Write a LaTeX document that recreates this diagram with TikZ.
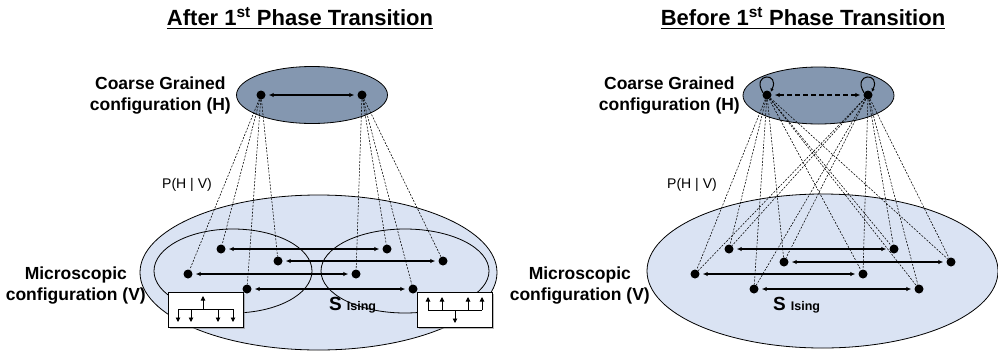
\documentclass[tikz,border=0pt]{standalone}
\usepackage{fontspec}
\setmainfont{Liberation Sans}
\newfontfamily\bn{Liberation Sans Bold}
\usetikzlibrary{arrows.meta,shapes.geometric,shadows}
\definecolor{topfill}{RGB}{132,151,176}
\definecolor{bigfill}{RGB}{218,227,243}
\begin{document}
\begin{tikzpicture}[x=1pt,y=-1pt,
  dot/.style={circle,fill=black,inner sep=0pt,minimum size=9pt},
  region/.style={ellipse,draw=black,line width=0.8pt,inner sep=0pt},
  link/.style={line width=0.55pt,dash pattern=on 2pt off 1.4pt},
  pair/.style={line width=1.1pt,{Latex[length=5pt,width=4.5pt]}-{Latex[length=5pt,width=4.5pt]},shorten <=3pt,shorten >=3pt},
  spinarrow/.style={line width=0.9pt,-{Triangle[length=4.5pt,width=4.5pt]}},
  spinbox/.style={draw=black,fill=white,line width=0.8pt,minimum width=75pt,minimum height=35pt,inner sep=0pt,
    drop shadow={shadow xshift=1.5pt,shadow yshift=-1.5pt,fill=black!45,opacity=0.6}},
  title/.style={font=\bn\fontsize{22}{27}\selectfont,inner sep=0pt,anchor=base},
  lab/.style={font=\bn\fontsize{17.5}{21}\selectfont,align=center,inner sep=0pt,anchor=east},
  plab/.style={font=\fontsize{14}{17}\selectfont,inner sep=0pt},
  slab/.style={inner sep=0pt,anchor=base west,font=\bn}
]
\useasboundingbox (0,0) rectangle (998,354);

% ================= LEFT PANEL =================
\node[title] (t1) at (300,25) {After 1\textsuperscript{st} Phase Transition};
\draw[line width=1.4pt] ([yshift=-3.5pt]t1.base west) -- ([yshift=-3.5pt]t1.base east);

\node[region,fill=bigfill,minimum width=357pt,minimum height=155pt] (VL) at (318.5,272.5) {};
\node[region,minimum width=158pt,minimum height=84pt] (VLa) at (233,271) {};
\node[region,minimum width=168pt,minimum height=84pt] (VLb) at (405,271) {};
\node[region,fill=topfill,minimum width=151pt,minimum height=57pt] (HL) at (312,95) {};

\node[dot] (h1) at (261,95) {};
\node[dot] (h2) at (362,95) {};
\node[dot] (a1) at (221,249) {};
\node[dot] (a2) at (278,261) {};
\node[dot] (a3) at (188,274) {};
\node[dot] (a4) at (247,289) {};
\node[dot] (b1) at (387,249) {};
\node[dot] (b2) at (443,261) {};
\node[dot] (b3) at (356,274) {};
\node[dot] (b4) at (413,289) {};

\foreach \n in {a1,a2,a3,a4} \draw[link] (h1) -- (\n);
\foreach \n in {b1,b2,b3,b4} \draw[link] (h2) -- (\n);
\draw[pair] (h1) -- (h2);
\foreach \i in {1,2,3,4} \draw[pair] (a\i) -- (b\i);

% spin boxes
\node[spinbox] (bx1) at (205.5,309.5) {};
\draw[line width=0.9pt] (178,309) -- (233,309);
\draw[spinarrow] (203,309) -- (203,296);
\foreach \x in {178,191,218,233} \draw[spinarrow] (\x,309) -- (\x,322);

\node[spinbox] (bx2) at (455,310) {};
\draw[line width=0.9pt] (428,310) -- (482,310);
\foreach \x in {428,442,468,482} \draw[spinarrow] (\x,310) -- (\x,297);
\draw[spinarrow] (455,310) -- (455,323);

\node[lab] (cgL) at (231,96) {Coarse Grained\\configuration (H)};
\node[lab] (mcL) at (146,285.5) {Microscopic\\configuration (V)};
\node[plab] (pL) at (187,185) {P(H | V)};
\node[slab] (sL) at (329,310) {{\fontsize{19}{22}\selectfont S}\hspace{5pt}{\fontsize{12.5}{15}\selectfont Ising}};

% ================= RIGHT PANEL =================
\node[title] (t2) at (803,25) {Before 1\textsuperscript{st} Phase Transition};
\draw[line width=1.4pt] ([yshift=-3.5pt]t2.base west) -- ([yshift=-3.5pt]t2.base east);

\node[region,fill=bigfill,minimum width=351pt,minimum height=154pt] (VR) at (822.5,271) {};
\node[region,fill=topfill,minimum width=151pt,minimum height=57pt] (HR) at (818.5,95.5) {};

\node[dot] (h3) at (767,95) {};
\node[dot] (h4) at (868,95) {};
\node[dot] (c1) at (729,249) {};
\node[dot] (c2) at (784,262) {};
\node[dot] (c3) at (695,274) {};
\node[dot] (c4) at (754,289) {};
\node[dot] (d1) at (894,249) {};
\node[dot] (d2) at (951,262) {};
\node[dot] (d3) at (863,274) {};
\node[dot] (d4) at (919,289) {};

\foreach \h in {h3,h4}
  \foreach \n in {c1,c2,c3,c4,d1,d2,d3,d4}
    \draw[link] (\h) -- (\n);
\draw[pair,dash pattern=on 5pt off 3pt] (h3) -- (h4);
\foreach \i in {1,2,3,4} \draw[pair] (c\i) -- (d\i);
\foreach \h in {h3,h4}
  \draw[line width=1pt,-{Latex[length=3.5pt,width=3.5pt]}] (\h.150) .. controls +(-12,-20) and +(10,-20) .. (\h.40);

\node[lab] (cgR) at (740,96) {Coarse Grained\\configuration (H)};
\node[lab] (mcR) at (650,285.5) {Microscopic\\configuration (V)};
\node[plab] (pR) at (692,185) {P(H | V)};
\node[slab] (sR) at (773,310) {{\fontsize{19}{22}\selectfont S}\hspace{5pt}{\fontsize{12.5}{15}\selectfont Ising}};
\end{tikzpicture}
\end{document}
